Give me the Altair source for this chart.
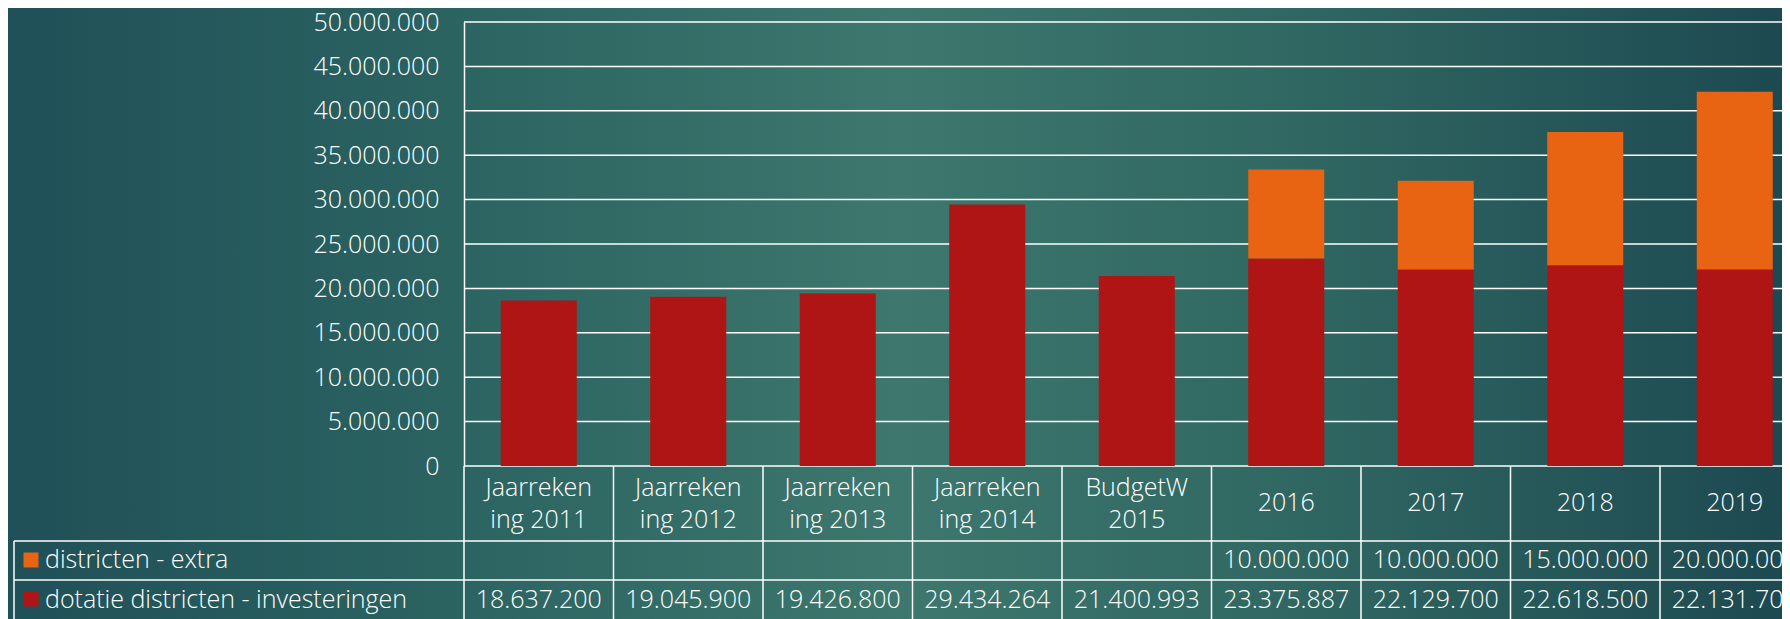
import altair as alt
import pandas as pd

# ---------------- data ----------------
categories = ["Jaarrekening 2011", "Jaarrekening 2012", "Jaarrekening 2013",
              "Jaarrekening 2014", "BudgetW 2015", "2016", "2017", "2018", "2019"]
category_labels = ["Jaarreken\ning 2011", "Jaarreken\ning 2012", "Jaarreken\ning 2013",
                   "Jaarreken\ning 2014", "BudgetW\n2015", "2016", "2017", "2018", "2019"]
dotatie = [18637200, 19045900, 19426800, 29434264, 21400993,
           23375887, 22129700, 22618500, 22131700]
extra = [None, None, None, None, None, 10000000, 10000000, 15000000, 20000000]
series_names = ["districten - extra", "dotatie districten - investeringen"]
series_colors = ["#E86412", "#AF1515"]
y_ticks = [0, 5000000, 10000000, 15000000, 20000000, 25000000,
           30000000, 35000000, 40000000, 45000000, 50000000]

# ---------------- tables ----------------
rows = []
for c, d, e in zip(categories, dotatie, extra):
    rows.append({"cat": c, "series": series_names[1], "value": d, "ord": 0})
    if e is not None:
        rows.append({"cat": c, "series": series_names[0], "value": e, "ord": 1})
bars_df = pd.DataFrame(rows)
cat_df = pd.DataFrame({"cat": categories, "label": category_labels})
dot_df = pd.DataFrame({"cat": categories, "value": dotatie})
ext_df = pd.DataFrame({"cat": categories, "value": extra}).dropna()
tick_df = pd.DataFrame({"tick": y_ticks})
one_df = pd.DataFrame({"k": [0]})

FONT = "Open Sans"
FW = 300
FS = 25
W = 1318
H = 444
BAND_RANGE = [0, 1345.5]

xscale = alt.Scale(domain=categories, range=BAND_RANGE, paddingInner=0, paddingOuter=0)
yscale = alt.Scale(domain=[0, 50000000], nice=False, zero=True)
yaxis = alt.Axis(values=y_ticks, format=",d", labelFont=FONT, labelFontSize=FS,
                 labelFontWeight=FW, labelColor="white", labelPadding=25, ticks=False,
                 grid=False, domain=True, domainColor="white", domainWidth=1.5,
                 title=None, zindex=1)

bg = alt.Chart(one_df).mark_rect(
    fill=alt.LinearGradient(
        gradient="linear", x1=0, x2=1, y1=0, y2=0,
        stops=[alt.GradientStop(offset=0, color="#1f4f57"),
               alt.GradientStop(offset=0.25, color="#2b6361"),
               alt.GradientStop(offset=0.5, color="#3d776d"),
               alt.GradientStop(offset=0.72, color="#306762"),
               alt.GradientStop(offset=1, color="#1c4850")])
).encode(x=alt.value(-470), x2=alt.value(1340), y=alt.value(-20), y2=alt.value(640))

grid = alt.Chart(tick_df).mark_rule(color="white", strokeWidth=1.5).encode(
    y=alt.Y("tick:Q", scale=yscale, axis=yaxis),
    x=alt.value(0), x2=alt.value(1340))

bars = alt.Chart(bars_df).mark_bar(size=76).encode(
    x=alt.X("cat:N", scale=xscale, sort=categories, axis=None),
    y=alt.Y("value:Q", scale=yscale, stack="zero", axis=yaxis),
    color=alt.Color("series:N", scale=alt.Scale(domain=series_names, range=series_colors), legend=None),
    order=alt.Order("ord:Q"))

txt = dict(font=FONT, fontSize=FS, fontWeight=FW, color="white")

cat_text2 = alt.Chart(cat_df).transform_filter(
    "indexof(datum.label, '\\n') >= 0").mark_text(
    lineBreak="\n", lineHeight=32, baseline="middle", align="center", **txt).encode(
    x=alt.X("cat:N", scale=xscale, sort=categories, axis=None),
    y=alt.value(466), text="label:N")

cat_text1 = alt.Chart(cat_df).transform_filter(
    "indexof(datum.label, '\\n') < 0").mark_text(
    baseline="middle", align="center", **txt).encode(
    x=alt.X("cat:N", scale=xscale, sort=categories, axis=None),
    y=alt.value(481), text="label:N")

ext_text = alt.Chart(ext_df).mark_text(baseline="middle", align="center", **txt).encode(
    x=alt.X("cat:N", scale=xscale, sort=categories, axis=None),
    y=alt.value(538), text=alt.Text("value:Q", format=",d"))

dot_text = alt.Chart(dot_df).mark_text(baseline="middle", align="center", **txt).encode(
    x=alt.X("cat:N", scale=xscale, sort=categories, axis=None),
    y=alt.value(578), text=alt.Text("value:Q", format=",d"))

row1_label = alt.Chart(one_df).mark_text(baseline="middle", align="left", text=series_names[0], **txt).encode(
    x=alt.value(-419), y=alt.value(538))
row2_label = alt.Chart(one_df).mark_text(baseline="middle", align="left", text=series_names[1], **txt).encode(
    x=alt.value(-419), y=alt.value(578))

sq1 = alt.Chart(one_df).mark_square(size=225, filled=True, opacity=1, color=series_colors[0]).encode(
    x=alt.value(-433), y=alt.value(538))
sq2 = alt.Chart(one_df).mark_square(size=225, filled=True, opacity=1, color=series_colors[1]).encode(
    x=alt.value(-433), y=alt.value(577))

hrule1 = alt.Chart(one_df).mark_rule(color="white", strokeWidth=1.5).encode(
    x=alt.value(-450), x2=alt.value(1340), y=alt.value(519))
hrule2 = alt.Chart(one_df).mark_rule(color="white", strokeWidth=1.5).encode(
    x=alt.value(-450), x2=alt.value(1340), y=alt.value(558))
vleft = alt.Chart(one_df).mark_rule(color="white", strokeWidth=1.5).encode(
    x=alt.value(-450), y=alt.value(519), y2=alt.value(640))
vrules = alt.Chart(cat_df).mark_rule(color="white", strokeWidth=1.5).encode(
    x=alt.X("cat:N", scale=xscale, sort=categories, axis=None, bandPosition=0),
    y=alt.value(H), y2=alt.value(640))

chart = alt.layer(bg, grid, bars, cat_text2, cat_text1, ext_text, dot_text, row1_label, row2_label,
                  sq1, sq2, hrule1, hrule2, vleft, vrules).properties(
    width=W, height=H,
    autosize=alt.AutoSizeParams(type="none"),
    padding={"left": 456, "top": 14, "right": 0, "bottom": 153},
    background="#2b6262",
).configure_view(stroke=None).configure(
    locale={"number": {"decimal": ",", "thousands": ".", "grouping": [3], "currency": ["€", ""]}})

chart.save("out.html", embed_options={"renderer": "svg", "actions": False})
